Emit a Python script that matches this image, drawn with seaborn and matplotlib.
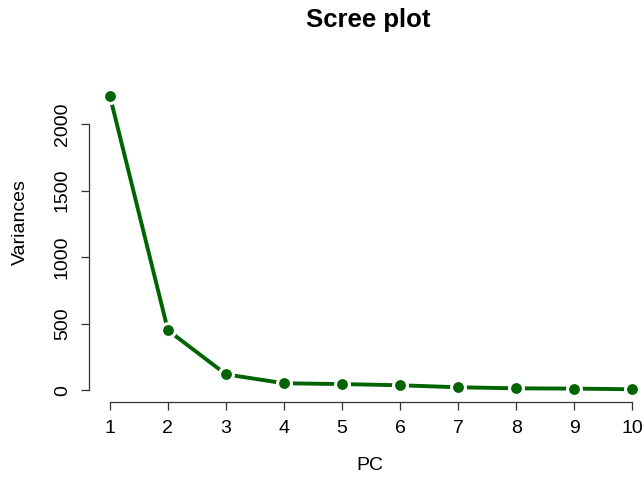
import numpy as np
import matplotlib
matplotlib.use("Agg")
import matplotlib.pyplot as plt
import pandas as pd
import seaborn as sb

pc = [1, 2, 3, 4, 5, 6, 7, 8, 9, 10]
variances = [2210, 451, 120, 53, 47, 38, 23, 15, 13, 8]
x_ticks = [1, 2, 3, 4, 5, 6, 7, 8, 9, 10]
y_ticks = [0, 500, 1000, 1500, 2000]

sb.set_style("white")
plt.rcParams["font.family"] = ["Liberation Sans", "DejaVu Sans"]
plt.rcParams["text.color"] = "black"
plt.rcParams["axes.labelcolor"] = "black"

df = pd.DataFrame({"PC": pc, "Variances": variances})

fig = plt.figure(figsize=(6.44, 4.8), dpi=100)
ax = fig.add_axes([0.1382, 0.1646, 0.876, 0.660])

sb.lineplot(data=df, x="PC", y="Variances", ax=ax, color="#006400",
            linewidth=2.8, marker="o", markersize=10,
            markeredgecolor="white", markeredgewidth=2.2)

ax.set_xlim(0.64, 10.36)
ax.set_ylim(-80, 2298)
ax.set_xticks(x_ticks)
ax.set_yticks(y_ticks)
ax.set_yticklabels([str(v) for v in y_ticks], rotation=90, va="center")

for side in ["top", "right"]:
    ax.spines[side].set_visible(False)
ax.spines["left"].set_bounds(0, 2000)
ax.spines["bottom"].set_bounds(1, 10)
for side in ["left", "bottom"]:
    ax.spines[side].set_color("#333333")
    ax.spines[side].set_linewidth(0.9)
ax.spines["bottom"].set_position(("outward", 1))

ax.tick_params(axis="both", direction="out", length=6, width=0.9,
               color="#333333", labelsize=14, labelcolor="black", pad=7)
ax.tick_params(axis="both", which="both", left=True, bottom=True)

ax.set_xlabel("", fontsize=14)
ax.set_ylabel("", fontsize=14)
fig.text(370 / 644, 1 - 465 / 480, "PC", ha="center", va="center", fontsize=14)
fig.text(20 / 644, 1 - 222 / 480, "Variances", ha="center", va="center",
         rotation=90, fontsize=14)
fig.text(368 / 644, 1 - 20 / 480, "Scree plot", ha="center", va="center",
         fontsize=18.5, fontweight="bold")

plt.savefig("out.png", dpi=100)
plt.close()
